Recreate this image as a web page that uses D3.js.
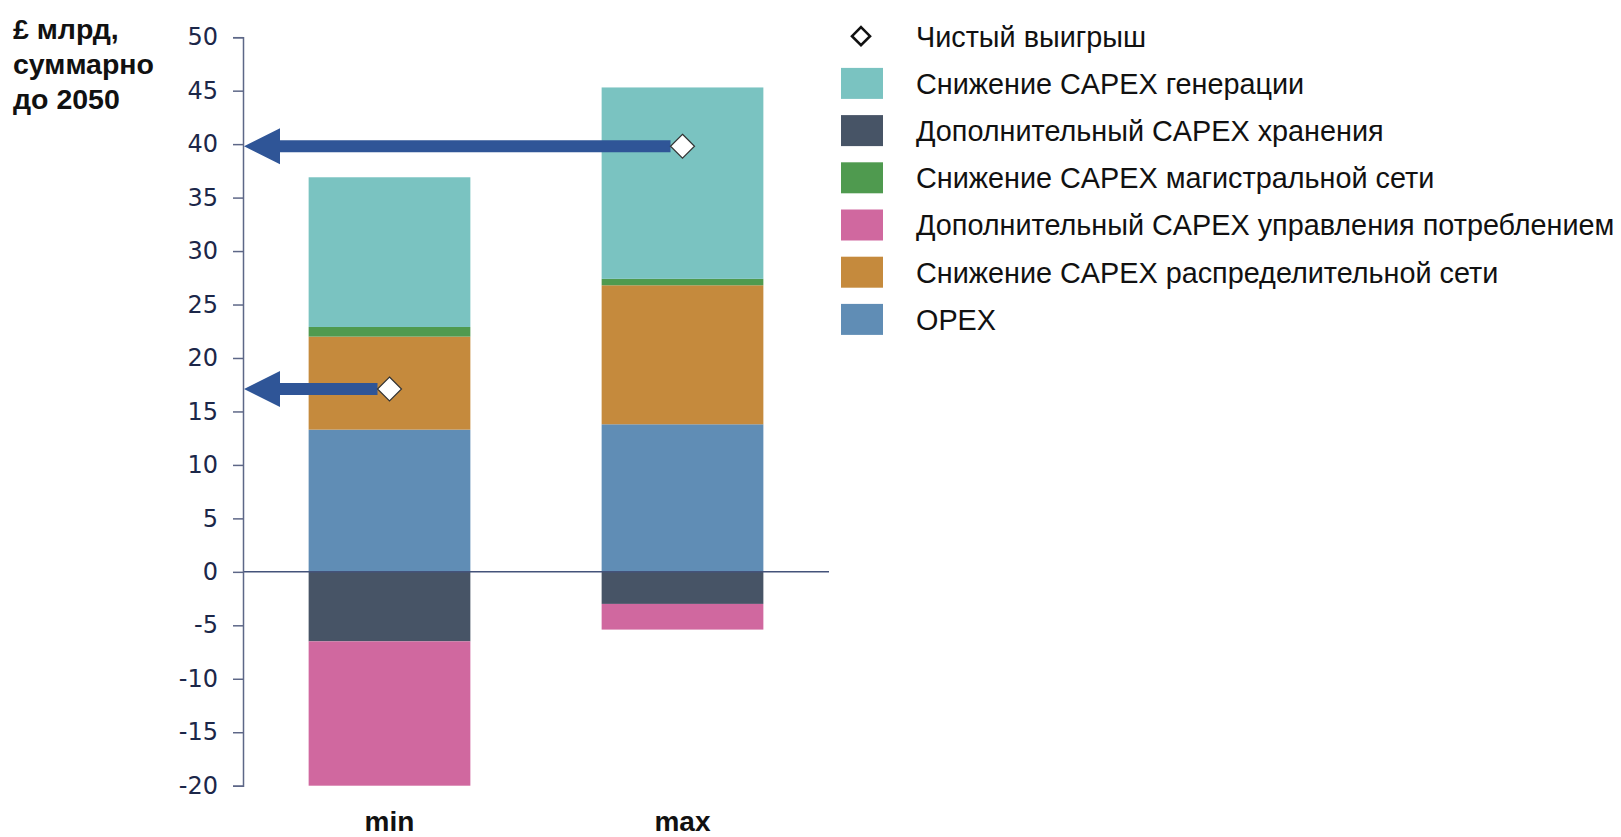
<!DOCTYPE html>
<html>
<head>
<meta charset="utf-8">
<script src="https://cdn.jsdelivr.net/npm/d3@7"></script>
<style>
  html, body { margin: 0; padding: 0; background: #fff; }
  svg { display: block; }
</style>
</head>
<body>
<script>
// Chart data
var categories = ["min", "max"];
var opex = [13.3, 13.8];
var distribution = [8.7, 13.0];
var transmission = [0.9, 0.6];
var generation = [14.0, 17.9];
var storage = [-6.5, -3.0];
var dsr = [-13.5, -2.4];
var netBenefit = [17.1, 39.8];
var yTicks = [50, 45, 40, 35, 30, 25, 20, 15, 10, 5, 0, -5, -10, -15, -20];

var seriesKeys = ["opex", "distribution", "transmission", "generation", "storage", "dsr"];
var seriesNames = {
  generation: "Снижение CAPEX генерации",
  storage: "Дополнительный CAPEX хранения",
  transmission: "Снижение CAPEX магистральной сети",
  dsr: "Дополнительный CAPEX управления потреблением",
  distribution: "Снижение CAPEX распределительной сети",
  opex: "OPEX"
};
var legendOrder = ["generation", "storage", "transmission", "dsr", "distribution", "opex"];
var colors = {
  generation: "#7ac3c1",
  storage: "#475466",
  transmission: "#4f9a4f",
  dsr: "#d0689f",
  distribution: "#c58a3d",
  opex: "#608db5"
};

var svgWidth = 1621;
var svgHeight = 837;

var svg = d3.select("body")
            .append("svg")
            .attr("width", svgWidth)
            .attr("height", svgHeight);

// build table for stacking
var table = categories.map(function(c, i) {
  return {
    cat: c,
    opex: opex[i],
    distribution: distribution[i],
    transmission: transmission[i],
    generation: generation[i],
    storage: storage[i],
    dsr: dsr[i]
  };
});

var stacked = d3.stack()
                .keys(seriesKeys)
                .offset(d3.stackOffsetDiverging)(table);

// scales
var axisX = 243;
var x = d3.scaleBand()
          .domain(categories)
          .range([axisX, 829])
          .paddingInner(0.448)
          .paddingOuter(0.224);

var y = d3.scaleLinear()
          .domain([-20, 50])
          .range([785.7, 37.2]);

// bars
svg.append("g")
   .selectAll("g")
   .data(stacked)
   .enter()
   .append("g")
   .attr("fill", function(d) { return colors[d.key]; })
   .selectAll("rect")
   .data(function(d) { return d; })
   .enter()
   .append("rect")
   .attr("x", function(d) { return x(d.data.cat); })
   .attr("width", x.bandwidth())
   .attr("y", function(d) { return y(Math.max(d[0], d[1])); })
   .attr("height", function(d) { return Math.abs(y(d[0]) - y(d[1])); });

// zero line
svg.append("line")
   .attr("x1", axisX)
   .attr("x2", 829)
   .attr("y1", y(0))
   .attr("y2", y(0))
   .attr("stroke", "#44537a")
   .attr("stroke-width", 1.5);

// y axis
var leftAxis = d3.axisLeft(y)
                 .tickValues(yTicks)
                 .tickSize(10)
                 .tickPadding(15)
                 .tickFormat(function(d) { return String(d); });

var axisG = svg.append("g")
               .attr("transform", `translate(${axisX}, 0)`)
               .call(leftAxis);

axisG.select(".domain")
     .attr("stroke", "#5d6787")
     .attr("stroke-width", 1.5);
axisG.selectAll(".tick line")
     .attr("stroke", "#5d6787")
     .attr("stroke-width", 1.5);
axisG.selectAll(".tick text")
     .attr("fill", "#1c2749")
     .style("font-family", "'DejaVu Sans', sans-serif")
     .style("font-size", "24px");

// arrows from net benefit markers to the axis
var headLen = 36, headHalf = 18, shaftHalf = 6, diamondR = 12;
svg.append("g")
   .selectAll("path")
   .data(categories)
   .enter()
   .append("path")
   .attr("fill", "#2f5597")
   .attr("d", function(c, i) {
     var cy = y(netBenefit[i]);
     var tip = axisX + 1;
     var end = x(c) + x.bandwidth() / 2 - diamondR;
     return "M" + tip + "," + cy +
            "L" + (tip + headLen) + "," + (cy - headHalf) +
            "L" + (tip + headLen) + "," + (cy - shaftHalf) +
            "L" + end + "," + (cy - shaftHalf) +
            "L" + end + "," + (cy + shaftHalf) +
            "L" + (tip + headLen) + "," + (cy + shaftHalf) +
            "L" + (tip + headLen) + "," + (cy + headHalf) + "Z";
   });

// net benefit diamonds
svg.append("g")
   .selectAll("path")
   .data(categories)
   .enter()
   .append("path")
   .attr("transform", function(c, i) {
     return `translate(${x(c) + x.bandwidth() / 2}, ${y(netBenefit[i])})`;
   })
   .attr("d", `M0,${-diamondR}L${diamondR},0L0,${diamondR}L${-diamondR},0Z`)
   .attr("fill", "#fff")
   .attr("stroke", "#333")
   .attr("stroke-width", 1.2);

// x labels
svg.append("g")
   .selectAll("text")
   .data(categories)
   .enter()
   .append("text")
   .attr("x", function(c) { return x(c) + x.bandwidth() / 2; })
   .attr("y", 831)
   .attr("text-anchor", "middle")
   .style("font-family", "'Liberation Sans', Arial, sans-serif")
   .style("font-weight", "bold")
   .style("font-size", "28px")
   .attr("fill", "#111")
   .text(function(c) { return c; });

// y axis title
var titleLines = ["£ млрд,", "суммарно", "до 2050"];
svg.append("g")
   .selectAll("text")
   .data(titleLines)
   .enter()
   .append("text")
   .attr("x", 13)
   .attr("y", function(d, i) { return 39 + i * 35; })
   .style("font-family", "'Liberation Sans', Arial, sans-serif")
   .style("font-weight", "bold")
   .style("font-size", "28.5px")
   .attr("fill", "#111")
   .text(function(d) { return d; });

// legend
var legendY0 = 36.2, legendStep = 47.2;
var legend = svg.append("g");

legend.append("path")
      .attr("transform", `translate(861, ${legendY0})`)
      .attr("d", "M0,-9L9,0L0,9L-9,0Z")
      .attr("fill", "#fff")
      .attr("stroke", "#111")
      .attr("stroke-width", 2.6);
legend.append("text")
      .attr("x", 916)
      .attr("y", legendY0)
      .attr("dy", "0.36em")
      .style("font-family", "'Liberation Sans', Arial, sans-serif")
      .style("font-size", "28.8px")
      .attr("fill", "#111")
      .text("Чистый выигрыш");

var rows = legend.selectAll("g.row")
                 .data(legendOrder)
                 .enter()
                 .append("g")
                 .attr("class", "row")
                 .attr("transform", function(d, i) {
                   return `translate(0, ${legendY0 + (i + 1) * legendStep})`;
                 });

rows.append("rect")
    .attr("x", 841)
    .attr("y", -15.5)
    .attr("width", 42)
    .attr("height", 31)
    .attr("fill", function(d) { return colors[d]; });

rows.append("text")
    .attr("x", 916)
    .attr("dy", "0.36em")
    .style("font-family", "'Liberation Sans', Arial, sans-serif")
    .style("font-size", "28.8px")
    .attr("fill", "#111")
    .text(function(d) { return seriesNames[d]; });
</script>
</body>
</html>
